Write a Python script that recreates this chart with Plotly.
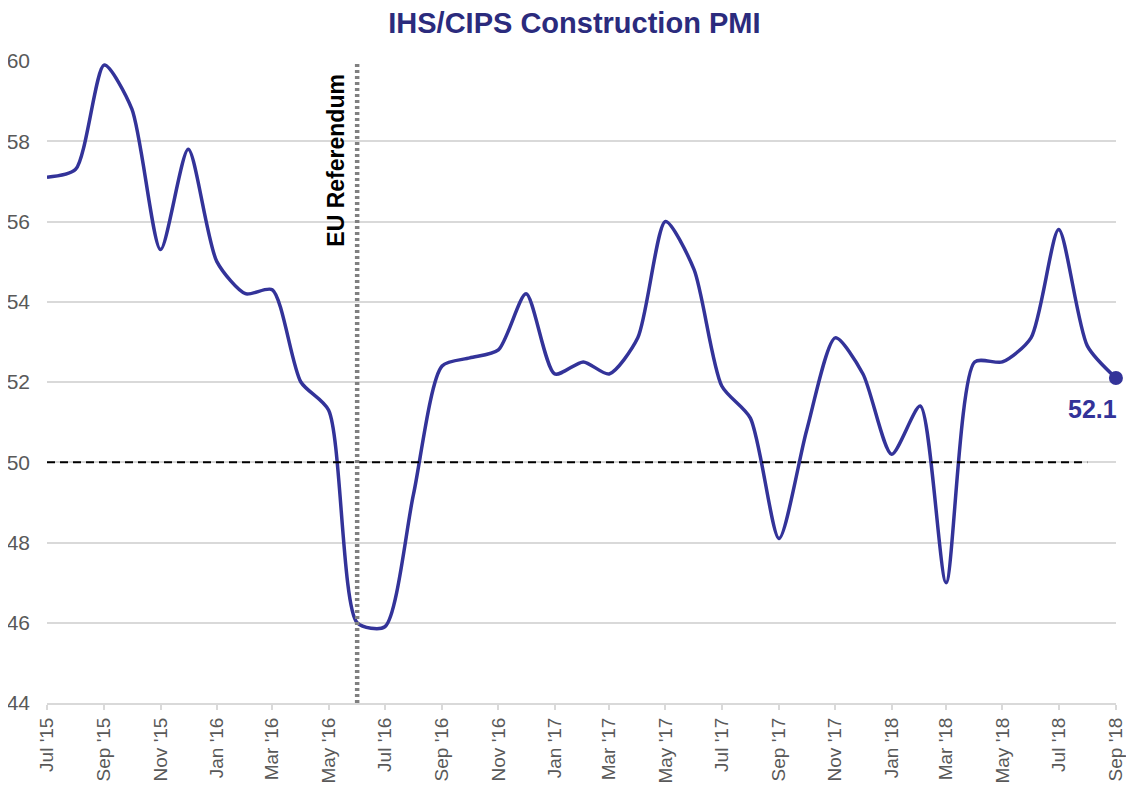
import plotly.graph_objects as go

months = [
    "2015-07-01", "2015-08-01", "2015-09-01", "2015-10-01", "2015-11-01", "2015-12-01",
    "2016-01-01", "2016-02-01", "2016-03-01", "2016-04-01", "2016-05-01", "2016-06-01",
    "2016-07-01", "2016-08-01", "2016-09-01", "2016-10-01", "2016-11-01", "2016-12-01",
    "2017-01-01", "2017-02-01", "2017-03-01", "2017-04-01", "2017-05-01", "2017-06-01",
    "2017-07-01", "2017-08-01", "2017-09-01", "2017-10-01", "2017-11-01", "2017-12-01",
    "2018-01-01", "2018-02-01", "2018-03-01", "2018-04-01", "2018-05-01", "2018-06-01",
    "2018-07-01", "2018-08-01", "2018-09-01",
]
pmi = [
    57.1, 57.3, 59.9, 58.8, 55.3, 57.8,
    55.0, 54.2, 54.3, 52.0, 51.3, 46.0,
    45.9, 49.2, 52.4, 52.6, 52.8, 54.2,
    52.2, 52.5, 52.2, 53.1, 56.0, 54.8,
    51.9, 51.1, 48.1, 50.8, 53.1, 52.2,
    50.2, 51.4, 47.0, 52.5, 52.5, 53.1,
    55.8, 52.9, 52.1,
]
tick_months = months[::2]
tick_labels = ["Jul '15", "Sep '15", "Nov '15", "Jan '16", "Mar '16", "May '16",
               "Jul '16", "Sep '16", "Nov '16", "Jan '17", "Mar '17", "May '17",
               "Jul '17", "Sep '17", "Nov '17", "Jan '18", "Mar '18", "May '18",
               "Jul '18", "Sep '18"]
referendum_month = "2016-06-01"
threshold = 50
threshold_end = "2018-08-01"

navy = "#333399"
title_navy = "#2b2b7d"
grey_txt = "#595959"
grid = "#d9d9d9"

fig = go.Figure()

fig.add_trace(go.Scatter(
    x=months, y=pmi, mode="lines",
    line=dict(color=navy, width=3.5, shape="spline", smoothing=0.7),
    showlegend=False,
))

# 50 = no change line
fig.add_trace(go.Scatter(
    x=[months[0], threshold_end], y=[threshold, threshold], mode="lines",
    line=dict(color="black", width=2, dash="8px,5px"),
    showlegend=False,
))

# referendum marker line
fig.add_trace(go.Scatter(
    x=[referendum_month, referendum_month], y=[44, 60], mode="lines",
    line=dict(color="#808080", width=4.5, dash="3px,3px"),
    showlegend=False, cliponaxis=False,
))

# last point
fig.add_trace(go.Scatter(
    x=[months[-1]], y=[pmi[-1]], mode="markers",
    marker=dict(color=navy, size=14),
    showlegend=False, cliponaxis=False,
))

fig.add_annotation(
    x=referendum_month, y=60, text="<b>EU Referendum</b>",
    textangle=-90, showarrow=False, xanchor="right", yanchor="top",
    xshift=-7, yshift=-11, font=dict(size=23, color="black"),
)
fig.add_annotation(
    x=months[-1], y=pmi[-1], text="<b>52.1</b>", showarrow=False,
    xanchor="right", yanchor="top", xshift=3, yshift=-15,
    font=dict(size=25, color=navy),
)

fig.update_layout(
    width=1126, height=800,
    title=dict(text="<b>IHS/CIPS Construction PMI</b>", x=0.503, xanchor="center",
               y=1 - 14.5 / 800, yanchor="middle", font=dict(size=29, color=title_navy)),
    font=dict(family="Liberation Sans, Arial, sans-serif"),
    paper_bgcolor="white", plot_bgcolor="white",
    margin=dict(l=39, r=18, t=53, b=105),
)
fig.update_xaxes(
    type="date", range=[months[0], "2018-09-01 02:00"],
    tickvals=tick_months, ticktext=tick_labels, tickangle=-90,
    tickfont=dict(size=19, color=grey_txt), ticklabeloverflow="allow",
    ticks="outside", ticklen=5, tickcolor=grid, tickwidth=2,
    showline=True, linecolor=grid, linewidth=2,
    showgrid=False, zeroline=False, automargin=False,
)
fig.update_yaxes(
    range=[44, 60], dtick=2, tickfont=dict(size=21, color=grey_txt),
    showgrid=True, gridcolor=grid, gridwidth=2,
    zeroline=False, ticks="", ticklabelstandoff=16, automargin=False,
)

fig.write_html("out.html")
